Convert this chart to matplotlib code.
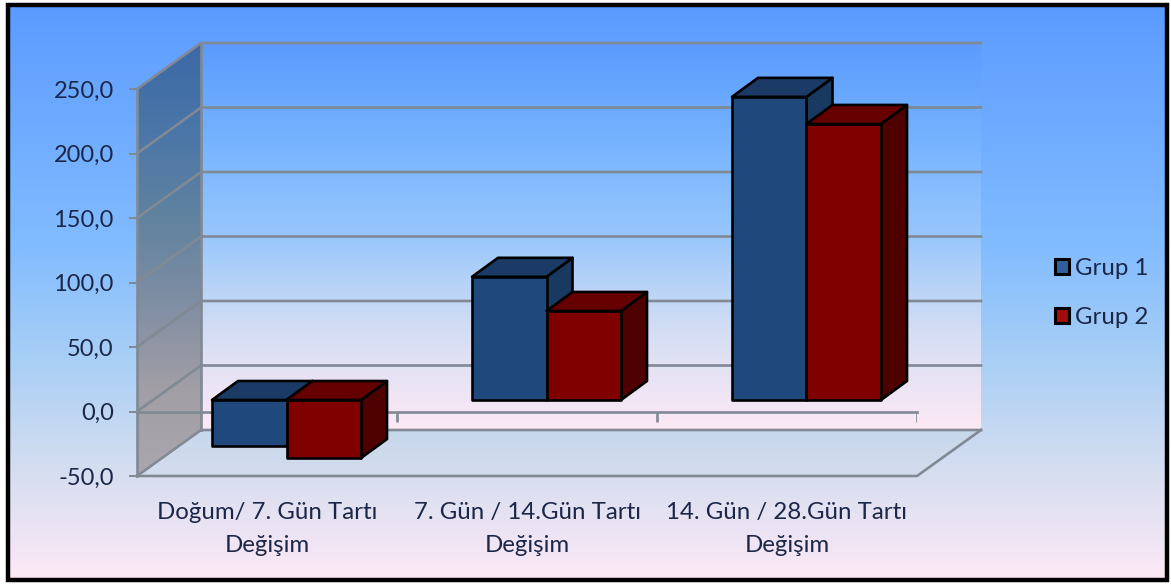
"""Grup 1 / Grup 2 tartı değişimi, 3B görünümlü sütun grafiği."""

import matplotlib
matplotlib.use("Agg")

import matplotlib.pyplot as plt
import numpy as np
from matplotlib.colors import LinearSegmentedColormap
from matplotlib.patches import Patch, Polygon, Rectangle

plt.rcParams["font.family"] = ["Lato", "DejaVu Sans"]

categories = ["Doğum/ 7. Gün Tartı\nDeğişim", "7. Gün / 14.Gün Tartı\nDeğişim", "14. Gün / 28.Gün Tartı\nDeğişim"]
series_names = ["Grup 1", "Grup 2"]
grup_1 = [-35.5, 95.5, 235.0]
grup_2 = [-45.0, 69.0, 214.0]
y_ticks = [-50, 0, 50, 100, 150, 200, 250]

W, H = 1171, 584
PX_X = 260.0   # piksel / kategori
PX_Y = 1.29    # piksel / birim

# derinlik kaydırmaları (kategori ve değer birimi cinsinden)
WALL_DX, WALL_DY = 64 / PX_X, 46 / PX_Y
BAR_DX, BAR_DY = 26 / PX_X, 19 / PX_Y
BAR_LIFT = 11.5 / PX_Y
BAR_GAP = 75 / PX_X
BAR_W = 74.5 / PX_X

GRID = "#808994"
TEXT = "#1c2747"
FACES = [("#1f497d", "#1b3b66", "#193a60"), ("#800000", "#660000", "#4f0000")]

fig = plt.figure(figsize=(W / 100, H / 100), dpi=100, facecolor="white")

# arka plan degradesi ve siyah çerçeve
bg = fig.add_axes([0, 0, 1, 1], zorder=0)
bg_cmap = LinearSegmentedColormap.from_list(
    "bg", [(0, "#5b9bff"), (0.42, "#82bcff"), (0.62, "#a9cff5"), (0.8, "#d3ddf0"), (1, "#fde9f6")]
)
bg.imshow(np.linspace(0, 1, 256)[:, None], cmap=bg_cmap, extent=(8, 1167, 580, 5), aspect="auto")
bg.set_xlim(0, W)
bg.set_ylim(H, 0)
bg.axis("off")
bg.add_patch(Rectangle((7.5, 5), 1159.5, 575, fill=False, edgecolor="black", linewidth=3.2))

ax = fig.add_axes([137 / W, (H - 476) / H, 780 / W, 387 / H], zorder=1)
ax.patch.set_alpha(0)
for spine in ax.spines.values():
    spine.set_visible(False)


def gradient_face(points, colors, extent, z):
    """Bir çokgeni yukarıdan aşağıya degrade ile doldurur."""
    cmap = LinearSegmentedColormap.from_list("face", colors)
    im = ax.imshow(np.linspace(0, 1, 128)[:, None], cmap=cmap, extent=extent, origin="upper", aspect="auto", zorder=z)
    clip = Polygon(points, closed=True, facecolor="none", edgecolor="none", transform=ax.transData, clip_on=False)
    ax.add_patch(clip)
    im.set_clip_box(fig.bbox)
    im.set_clip_path(clip)


top, bottom = y_ticks[-1], y_ticks[0]

# arka duvar, sol duvar ve taban
gradient_face(
    [(WALL_DX, bottom + WALL_DY), (3 + WALL_DX, bottom + WALL_DY), (3 + WALL_DX, top + WALL_DY), (WALL_DX, top + WALL_DY)],
    ["#5b9bfd", "#76b3ff", "#98c7fc", "#d5def3", "#fde9f6"],
    (WALL_DX, 3 + WALL_DX, bottom + WALL_DY, top + WALL_DY),
    1,
)
gradient_face(
    [(0, bottom), (WALL_DX, bottom + WALL_DY), (WALL_DX, top + WALL_DY), (0, top)],
    ["#3c68a6", "#4a76a8", "#60829f", "#7f8ea3", "#a29ea6", "#aaa6ae"],
    (0, WALL_DX, bottom, top + WALL_DY),
    1,
)
gradient_face(
    [(0, bottom), (3, bottom), (3 + WALL_DX, bottom + WALL_DY), (WALL_DX, bottom + WALL_DY)],
    ["#c6d8ea", "#d4dcee"],
    (0, 3 + WALL_DX, bottom, bottom + WALL_DY),
    1,
)
ax.set_xlim(0, 3)
ax.set_ylim(-50, 250)

# ızgara çizgileri duvar boyunca kırılarak devam eder
for v in y_ticks:
    ax.plot([0, WALL_DX, 3 + WALL_DX], [v, v + WALL_DY, v + WALL_DY], color=GRID, lw=1.9, zorder=2, clip_on=False,
            solid_joinstyle="miter")
ax.plot([0, 0], [bottom, top], color=GRID, lw=1.9, zorder=2, clip_on=False)
ax.plot([WALL_DX, WALL_DX], [bottom + WALL_DY, top + WALL_DY], color=GRID, lw=1.9, zorder=2, clip_on=False)
ax.plot([0, 3, 3 + WALL_DX], [bottom, bottom, bottom + WALL_DY], color=GRID, lw=1.9, zorder=2, clip_on=False)

# sıfır ekseni ve kategori çentikleri
ax.plot([0, 3], [0, 0], color=GRID, lw=1.9, zorder=3, clip_on=False)
ax.vlines([1, 2, 3], -8, 0, color=GRID, lw=1.9, zorder=3)


def draw_bar(x0, value, faces, z):
    """Ön, üst ve yan yüzlerle tek bir sütun çizer."""
    low, high = min(value, 0) + BAR_LIFT, max(value, 0) + BAR_LIFT
    x1 = x0 + BAR_W
    style = dict(edgecolor="black", linewidth=1.9, joinstyle="round", zorder=z, clip_on=False)
    ax.add_patch(Polygon([(x1, low), (x1 + BAR_DX, low + BAR_DY), (x1 + BAR_DX, high + BAR_DY), (x1, high)],
                         facecolor=faces[2], **style))
    ax.add_patch(Polygon([(x0, high), (x1, high), (x1 + BAR_DX, high + BAR_DY), (x0 + BAR_DX, high + BAR_DY)],
                         facecolor=faces[1], **style))
    ax.add_patch(Polygon([(x0, low), (x1, low), (x1, high), (x0, high)], facecolor=faces[0], **style))


for i in range(len(categories)):
    draw_bar(i + BAR_GAP, grup_1[i], FACES[0], 4)
    draw_bar(i + BAR_GAP + BAR_W, grup_2[i], FACES[1], 5)

ax.set_yticks(y_ticks)
ax.set_yticklabels([f"{v:.1f}".replace(".", ",") for v in y_ticks], fontsize=17, color=TEXT)
ax.tick_params(axis="y", length=5.8, width=1.4, color=GRID, pad=11)
ax.set_xticks([0.5, 1.5, 2.5])
ax.set_xticklabels(categories, fontsize=17.3, color=TEXT, linespacing=1.75)
ax.tick_params(axis="x", length=0, pad=18.5)

handles = [Patch(facecolor=c, edgecolor="black", linewidth=2.2, label=n) for c, n in zip(["#2f5f9e", "#a00d0d"], series_names)]
fig.legend(
    handles=handles,
    loc="center left",
    bbox_to_anchor=(1033 / W, (H - 293) / H),
    frameon=False,
    fontsize=17.3,
    labelcolor=TEXT,
    handlelength=0.58,
    handleheight=0.58,
    handletextpad=0.28,
    labelspacing=1.18,
)

fig.savefig("out.png", dpi=100)
